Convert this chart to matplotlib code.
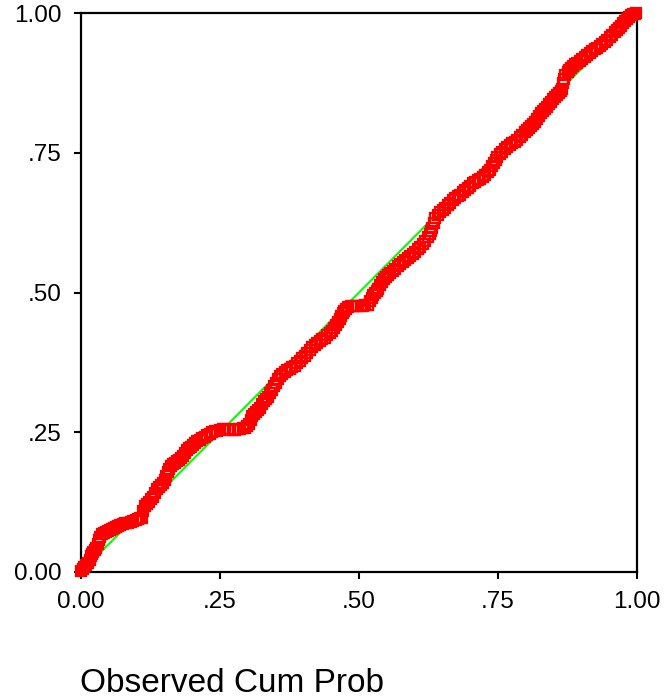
import matplotlib
matplotlib.use("Agg")
import matplotlib.pyplot as plt

plt.rcParams['font.family'] = ['Liberation Sans', 'DejaVu Sans']

# Observed cumulative probability (x) vs expected cumulative probability (y)
observed = [
    0.000, 0.003, 0.005, 0.009, 0.013, 0.016, 0.018, 0.020, 0.022, 0.025,
    0.027, 0.030, 0.032, 0.035, 0.038, 0.041, 0.045, 0.048, 0.052, 0.056,
    0.059, 0.063, 0.067, 0.071, 0.076, 0.080, 0.085, 0.090, 0.094, 0.099,
    0.103, 0.107, 0.110, 0.112, 0.115, 0.118, 0.122, 0.126, 0.129, 0.133,
    0.137, 0.140, 0.144, 0.148, 0.151, 0.153, 0.156, 0.159, 0.162, 0.166,
    0.169, 0.173, 0.176, 0.180, 0.183, 0.187, 0.191, 0.195, 0.198, 0.201,
    0.205, 0.209, 0.214, 0.218, 0.223, 0.227, 0.232, 0.236, 0.241, 0.245,
    0.250, 0.255, 0.259, 0.264, 0.268, 0.273, 0.277, 0.282, 0.286, 0.291,
    0.295, 0.299, 0.302, 0.305, 0.308, 0.312, 0.315, 0.319, 0.322, 0.326,
    0.329, 0.333, 0.336, 0.340, 0.344, 0.347, 0.351, 0.355, 0.358, 0.362,
    0.367, 0.371, 0.376, 0.380, 0.385, 0.389, 0.394, 0.398, 0.403, 0.407,
    0.412, 0.416, 0.421, 0.425, 0.430, 0.434, 0.439, 0.443, 0.448, 0.451,
    0.455, 0.459, 0.462, 0.465, 0.468, 0.471, 0.473, 0.477, 0.480, 0.485,
    0.489, 0.494, 0.498, 0.503, 0.507, 0.511, 0.516, 0.520, 0.523, 0.526,
    0.529, 0.532, 0.534, 0.538, 0.541, 0.545, 0.549, 0.552, 0.556, 0.561,
    0.565, 0.570, 0.574, 0.579, 0.583, 0.588, 0.592, 0.597, 0.601, 0.606,
    0.610, 0.615, 0.619, 0.624, 0.628, 0.630, 0.631, 0.634, 0.637, 0.642,
    0.646, 0.651, 0.655, 0.660, 0.664, 0.669, 0.673, 0.678, 0.682, 0.687,
    0.691, 0.696, 0.700, 0.705, 0.709, 0.714, 0.718, 0.723, 0.727, 0.732,
    0.736, 0.740, 0.743, 0.746, 0.748, 0.753, 0.757, 0.762, 0.766, 0.771,
    0.775, 0.780, 0.784, 0.789, 0.793, 0.798, 0.802, 0.806, 0.809, 0.813,
    0.817, 0.821, 0.824, 0.828, 0.831, 0.835, 0.838, 0.842, 0.845, 0.849,
    0.853, 0.857, 0.860, 0.863, 0.865, 0.867, 0.868, 0.871, 0.875, 0.878,
    0.882, 0.885, 0.889, 0.892, 0.897, 0.901, 0.906, 0.910, 0.915, 0.919,
    0.924, 0.928, 0.933, 0.937, 0.942, 0.946, 0.951, 0.955, 0.960, 0.964,
    0.968, 0.971, 0.975, 0.978, 0.982, 0.986, 0.990, 0.993, 0.996, 0.998]
expected = [
    0.002, 0.005, 0.009, 0.012, 0.016, 0.022, 0.029, 0.033, 0.036, 0.040,
    0.043, 0.050, 0.057, 0.063, 0.068, 0.070, 0.072, 0.074, 0.075, 0.077,
    0.079, 0.080, 0.082, 0.084, 0.086, 0.087, 0.088, 0.090, 0.091, 0.093,
    0.095, 0.096, 0.097, 0.110, 0.118, 0.121, 0.125, 0.130, 0.134, 0.141,
    0.148, 0.152, 0.156, 0.160, 0.165, 0.172, 0.179, 0.185, 0.190, 0.193,
    0.195, 0.198, 0.200, 0.204, 0.208, 0.213, 0.218, 0.221, 0.224, 0.228,
    0.231, 0.234, 0.236, 0.239, 0.242, 0.245, 0.247, 0.250, 0.252, 0.253,
    0.254, 0.255, 0.256, 0.255, 0.254, 0.254, 0.254, 0.255, 0.256, 0.257,
    0.258, 0.261, 0.265, 0.272, 0.279, 0.283, 0.286, 0.290, 0.293, 0.300,
    0.306, 0.310, 0.313, 0.320, 0.326, 0.332, 0.338, 0.345, 0.351, 0.355,
    0.358, 0.361, 0.363, 0.366, 0.369, 0.373, 0.377, 0.382, 0.386, 0.392,
    0.397, 0.402, 0.406, 0.410, 0.413, 0.416, 0.419, 0.424, 0.428, 0.432,
    0.436, 0.442, 0.447, 0.453, 0.458, 0.463, 0.467, 0.471, 0.474, 0.475,
    0.476, 0.476, 0.476, 0.476, 0.476, 0.477, 0.478, 0.484, 0.490, 0.495,
    0.499, 0.503, 0.506, 0.513, 0.519, 0.524, 0.528, 0.532, 0.535, 0.539,
    0.542, 0.547, 0.551, 0.555, 0.558, 0.562, 0.565, 0.569, 0.572, 0.577,
    0.581, 0.587, 0.592, 0.599, 0.605, 0.610, 0.615, 0.624, 0.633, 0.639,
    0.644, 0.648, 0.651, 0.656, 0.660, 0.665, 0.669, 0.672, 0.674, 0.679,
    0.683, 0.687, 0.691, 0.695, 0.698, 0.701, 0.703, 0.707, 0.710, 0.715,
    0.719, 0.726, 0.732, 0.737, 0.742, 0.747, 0.751, 0.756, 0.760, 0.764,
    0.767, 0.770, 0.773, 0.778, 0.782, 0.787, 0.791, 0.795, 0.798, 0.802,
    0.805, 0.811, 0.816, 0.821, 0.825, 0.829, 0.832, 0.837, 0.841, 0.846,
    0.850, 0.854, 0.857, 0.861, 0.864, 0.875, 0.882, 0.889, 0.894, 0.898,
    0.902, 0.905, 0.908, 0.911, 0.915, 0.918, 0.922, 0.925, 0.929, 0.932,
    0.935, 0.937, 0.941, 0.945, 0.949, 0.952, 0.957, 0.961, 0.966, 0.970,
    0.974, 0.977, 0.982, 0.986, 0.990, 0.993, 0.996, 0.998, 0.999, 1.000]

ref_line = [0.0, 1.0]
tick_values = [0.0, 0.25, 0.5, 0.75, 1.0]
tick_labels = ["0.00", ".25", ".50", ".75", "1.00"]
x_title = "Observed Cum Prob"

fig = plt.figure(figsize=(6.68, 7.00), dpi=100)
ax = fig.add_axes([81 / 668, 128 / 700, 556 / 668, 559 / 700])

ax.plot(ref_line, ref_line, color='#00ff00', linewidth=1.5, zorder=2)
ax.plot(observed, expected, linestyle='none', marker='s', markersize=7.8,
        markerfacecolor='none', markeredgecolor='#ff0000', markeredgewidth=1.6,
        clip_on=False, zorder=3)

ax.set_xlim(0, 1)
ax.set_ylim(0, 1)
ax.set_xticks(tick_values)
ax.set_xticklabels(tick_labels)
ax.set_yticks(tick_values)
ax.set_yticklabels(tick_labels)
ax.tick_params(axis='both', direction='out', length=5, width=1.5,
               labelsize=17.5, colors='black', pad=9)
for s in ax.spines.values():
    s.set_linewidth(1.6)
    s.set_color('black')

fig.text(80 / 668, 1 - 683 / 700, x_title, fontsize=24, ha='left', va='center')

fig.savefig("out.png", dpi=100)
